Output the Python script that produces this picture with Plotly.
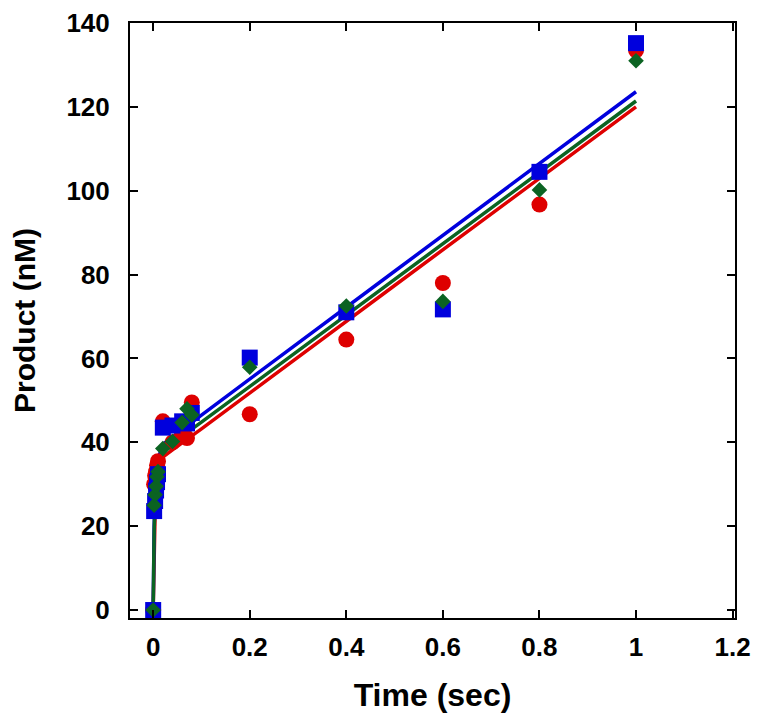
import plotly.graph_objects as go

# Measured data (time in sec, product in nM)
t_data = [0, 0.002, 0.004, 0.006, 0.008, 0.01, 0.02, 0.04, 0.06, 0.07, 0.08, 0.2, 0.4, 0.6, 0.8, 1.0]
red_vals = [0, 30, 32, 33, 34.5, 35.5, 45, 40, 42, 41, 49.5, 46.7, 64.5, 78, 96.7, 133.5]
blue_vals = [0, 23.6, 26, 28.5, 30.5, 32.4, 43.5, 44, 45, 44.5, 47, 60.2, 71, 71.7, 104.5, 135.2]
green_vals = [0, 25, 27.5, 29.5, 31.8, 33, 38.5, 40.2, 44.7, 48, 46.5, 57.9, 72.5, 73.6, 100.2, 131]

# Fit curves
t_fit = [0, 0.002, 0.005, 0.01, 0.02, 0.04, 0.1, 0.5, 1.0]
red_fit = [0, 18, 29, 33.5, 36.5, 38.2, 43.2, 77.4, 120]
blue_fit = [0, 20, 31, 36, 39.5, 41.3, 46.5, 80.8, 123.6]
green_fit = [0, 19, 30, 34.5, 38, 39.8, 44.8, 78.9, 121.4]

x_ticks = [0, 0.2, 0.4, 0.6, 0.8, 1.0, 1.2]
x_ticktext = ["0", "0.2", "0.4", "0.6", "0.8", "1", "1.2"]
y_ticks = [0, 20, 40, 60, 80, 100, 120, 140]

RED = "#de0000"
BLUE = "#0000dd"
GREEN = "#0b6322"

fig = go.Figure()
for yv, c in [(red_fit, RED), (blue_fit, BLUE), (green_fit, GREEN)]:
    fig.add_trace(go.Scatter(x=t_fit, y=yv, mode="lines",
                             line=dict(color=c, width=3.5), showlegend=False))

fig.add_trace(go.Scatter(x=t_data, y=red_vals, mode="markers",
                         marker=dict(symbol="circle", size=16, color=RED), showlegend=False))
fig.add_trace(go.Scatter(x=t_data, y=blue_vals, mode="markers",
                         marker=dict(symbol="square", size=16, color=BLUE), showlegend=False))
fig.add_trace(go.Scatter(x=t_data, y=green_vals, mode="markers",
                         marker=dict(symbol="diamond", size=12, color=GREEN), showlegend=False))

axis_common = dict(
    showline=True, linecolor="black", linewidth=2, mirror="ticks",
    ticks="inside", ticklen=8, tickwidth=2, tickcolor="black",
    showgrid=False, zeroline=False, automargin=False,
)

fig.update_xaxes(
    range=[-0.048, 1.205], tickvals=x_ticks, ticktext=x_ticktext,
    tickfont=dict(family="Liberation Sans, Arial", size=26, color="black", weight="bold"),
    ticklabelstandoff=5,
    title=dict(text="<b>Time (sec)</b>", font=dict(family="Liberation Sans, Arial", size=32, color="black"), standoff=22),
    **axis_common,
)
fig.update_yaxes(
    range=[-1.9, 140], tickvals=y_ticks,
    tickfont=dict(family="Liberation Sans, Arial", size=26, color="black", weight="bold"),
    ticklabelstandoff=13,
    title=dict(text="<b>Product (nM)</b>", font=dict(family="Liberation Sans, Arial", size=30, color="black"), standoff=26),
    **axis_common,
)

fig.update_layout(
    width=754, height=709,
    margin=dict(l=122, r=27, t=15, b=99),
    paper_bgcolor="white", plot_bgcolor="white",
)

fig.write_html("out.html")
